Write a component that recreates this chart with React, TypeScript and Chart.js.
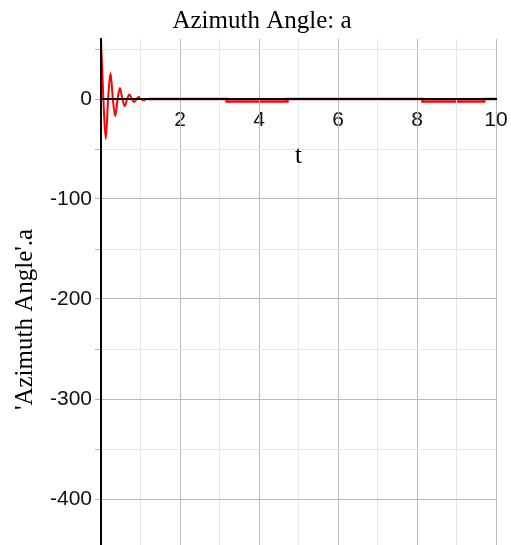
import { useEffect, useRef } from 'react';
import { Chart, registerables } from 'chart.js';

Chart.register(...registerables);

// ---- text ----
const titleText = 'Azimuth Angle: a';
const xTitle = 't';
const yTitle = "'Azimuth Angle'.a";

// ---- data ----
// damped oscillation near t = 0
const oscT = [0, 0.06, 0.12, 0.18, 0.24, 0.30, 0.36, 0.42, 0.48, 0.54, 0.60, 0.66, 0.72, 0.78, 0.84, 0.90, 0.96, 1.02, 1.08, 1.14, 1.2];
const oscV = [60, 0, -40, 0, 26, 0, -17, 0, 11, 0, -7, 0, 4.5, 0, -3, 0, 2, 0, -1.3, 0, 0];
// later, slightly negative plateaus (the rest lies on the axis)
const flatT = [1.2, 3.18, 3.18, 4.72, 4.72, 8.14, 8.14, 9.7, 9.7, 10];
const flatV = [0, 0, -2.5, -2.5, 0, 0, -2.5, -2.5, 0, 0];

// ---- axes ----
const xMin = 0;
const xMax = 10;
const xStep = 1;
const xLabelled = [2, 4, 6, 8, 10];
const yMin = -446;
const yMax = 60;
const yStep = 50;
const yLabelled = [0, -100, -200, -300, -400];

const MAJOR = '#b9b9b9';
const MINOR = '#e6e6e6';

const textPlugin = {
  id: 'mapleText',
  afterDraw(chart: any) {
    const { ctx, chartArea } = chart;
    ctx.save();
    ctx.fillStyle = '#000';
    ctx.font = '25px "Liberation Serif", "Times New Roman", serif';
    ctx.textAlign = 'center';
    ctx.textBaseline = 'alphabetic';
    ctx.fillText(titleText, 262, 28);
    ctx.fillText(xTitle, (chartArea.left + chartArea.right) / 2, 163);
    ctx.translate(32, 319.5);
    ctx.rotate(-Math.PI / 2);
    ctx.fillText(yTitle, 0, 0);
    ctx.restore();
  },
};

export default function App() {
  const ref = useRef<HTMLCanvasElement>(null);

  useEffect(() => {
    const canvas = ref.current;
    if (!canvas) return;
    const tickFont = { family: '"Liberation Sans", Arial, sans-serif', size: 21 };
    const chart = new Chart(canvas, {
      type: 'line',
      data: {
        datasets: [
          {
            data: oscT.map((t, i) => ({ x: t, y: oscV[i] })),
            borderColor: '#ff0000',
            borderWidth: 2,
            pointRadius: 0,
            cubicInterpolationMode: 'monotone',
            fill: false,
          },
          {
            data: flatT.map((t, i) => ({ x: t, y: flatV[i] })),
            borderColor: '#ff0000',
            borderWidth: 2.5,
            pointRadius: 0,
            tension: 0,
            fill: false,
          },
        ],
      },
      options: {
        responsive: false,
        devicePixelRatio: 1,
        animation: false,
        layout: { padding: { left: 0, top: 39, right: 15, bottom: 0 } },
        plugins: {
          legend: { display: false },
          tooltip: { enabled: false },
          title: { display: false },
        },
        scales: {
          x: {
            type: 'linear',
            min: xMin,
            max: xMax,
            position: { y: 0 },
            afterFit: (s: any) => {
              s.paddingLeft = 0;
              s.paddingRight = 0;
            },
            border: { display: true, color: '#000', width: 2, z: 2 },
            grid: {
              z: 1,
              lineWidth: 1,
              tickLength: 6,
              color: (c: any) =>
                c.tick && c.tick.value === 0 ? 'rgba(0,0,0,0)' : c.tick && c.tick.value % 2 === 0 ? MAJOR : MINOR,
              tickColor: (c: any) =>
                c.tick && c.tick.value === 0 ? 'rgba(0,0,0,0)' : c.tick && c.tick.value % 2 === 0 ? MAJOR : MINOR,
            },
            ticks: {
              stepSize: xStep,
              autoSkip: false,
              maxRotation: 0,
              padding: 3,
              color: '#111',
              font: tickFont,
              callback: (v: any) => (xLabelled.includes(Number(v)) ? String(v) : ''),
            },
          },
          y: {
            type: 'linear',
            min: yMin,
            max: yMax,
            position: 'left',
            afterFit: (s: any) => {
              s.width = 101;
              s.paddingTop = 0;
              s.paddingBottom = 0;
            },
            border: { display: true, color: '#000', width: 2, z: 2 },
            grid: {
              z: 1,
              lineWidth: 1,
              tickLength: 6,
              color: (c: any) =>
                c.tick && c.tick.value === 0 ? 'rgba(0,0,0,0)' : c.tick && c.tick.value % 100 === 0 ? MAJOR : MINOR,
              tickColor: '#b5b5b5',
            },
            ticks: {
              stepSize: yStep,
              includeBounds: false,
              autoSkip: false,
              padding: 3,
              color: '#111',
              font: tickFont,
              callback: (v: any) => (yLabelled.includes(Number(v)) ? String(v) : ''),
            },
          },
        },
      },
      plugins: [textPlugin],
    } as any);
    return () => chart.destroy();
  }, []);

  return (
    <div style={{ position: 'absolute', left: 0, top: 0, width: 511, height: 545, background: '#fff' }}>
      <canvas ref={ref} width={511} height={545} style={{ display: 'block' }} />
    </div>
  );
}
